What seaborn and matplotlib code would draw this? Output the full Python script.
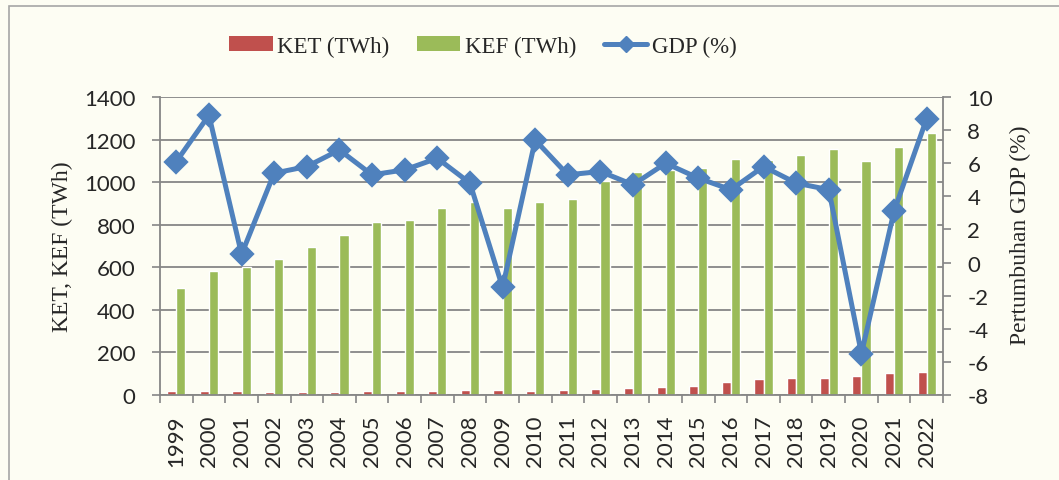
import numpy as np
import pandas as pd
import matplotlib
matplotlib.use("Agg")
import matplotlib.pyplot as plt
import seaborn as sns
from matplotlib.patches import Patch, Rectangle
from matplotlib.lines import Line2D

years = [str(y) for y in range(1999, 2023)]
ket = [20, 20, 17, 14, 14, 16, 17, 17, 17, 22, 22, 17, 25, 30, 34, 39, 42, 60, 77, 78, 81, 89, 102, 106]
kef = [501, 584, 600, 638, 694, 750, 812, 821, 877, 906, 877, 907, 920, 1007, 1046, 1059, 1068, 1109, 1106, 1127, 1155, 1101, 1167, 1233]
gdp = [6.1, 8.9, 0.5, 5.4, 5.8, 6.8, 5.3, 5.6, 6.3, 4.8, -1.5, 7.4, 5.3, 5.5, 4.7, 6.0, 5.1, 4.4, 5.8, 4.8, 4.4, -5.5, 3.1, 8.7]
series_names = ["KET (TWh)", "KEF (TWh)", "GDP (%)"]
left_ticks = [0, 200, 400, 600, 800, 1000, 1200, 1400]
right_ticks = [-8, -6, -4, -2, 0, 2, 4, 6, 8, 10]

RED = "#C0504D"
GREEN = "#9BBB59"
BLUE = "#4F81BD"
GRID = "#868686"

sns.set_theme(style="white")
plt.rcParams["font.family"] = ["Lato", "DejaVu Sans"]
plt.rcParams["axes.unicode_minus"] = False

df = pd.DataFrame({
    "Tahun": years * 2,
    "value": ket + kef,
    "series": [series_names[0]] * len(years) + [series_names[1]] * len(years),
})

fig = plt.figure(figsize=(10.59, 4.81), dpi=100, facecolor="#fdfdf3")
ax = fig.add_axes([160 / 1059, 1 - 396 / 481, (943 - 160) / 1059, (396 - 98) / 481])
ax.set_facecolor("none")

sns.barplot(data=df, x="Tahun", y="value", hue="series", hue_order=series_names[:2],
            palette=[RED, GREEN], width=0.56, gap=0, saturation=1, legend=False,
            ax=ax, zorder=2)

ax2 = ax.twinx()
sns.pointplot(x=years, y=gdp, ax=ax2, color=BLUE, markers="D", errorbar=None,
              markersize=10, linewidth=3.6, zorder=5)

ax.set_xlim(-0.5, len(years) - 0.5)
ax.set_ylim(0, 1400)
ax.set_yticks(left_ticks)
ax2.set_ylim(-8, 10)
ax2.set_yticks(right_ticks)

ax.set_axisbelow(True)
ax.yaxis.grid(True, color=GRID, lw=1.3)
ax.xaxis.grid(False)
ax2.grid(False)

ax.set_xticks(range(len(years)))
ax.set_xticklabels(years, rotation=90, fontsize=16)
ax.set_xticks(np.arange(-0.5, len(years), 1), minor=True)
ax.tick_params(axis="x", which="major", length=0, pad=14)
ax.tick_params(axis="x", which="minor", length=5.5, width=1.2, color=GRID, direction="out", bottom=True)
ax.tick_params(axis="y", length=5.5, width=1.2, color=GRID, direction="out", left=True, pad=12, labelsize=16)
ax2.tick_params(axis="y", length=5.5, width=1.2, color=GRID, direction="out", right=True, pad=12, labelsize=16)

for a in (ax, ax2):
    for s in a.spines.values():
        s.set_visible(False)
ax.spines["left"].set_visible(True)
ax.spines["bottom"].set_visible(True)
ax2.spines["right"].set_visible(True)
for s in (ax.spines["left"], ax.spines["bottom"], ax2.spines["right"]):
    s.set_color(GRID)
    s.set_linewidth(1.3)

serif = {"family": "Liberation Serif", "size": 17}
ax.set_xlabel("")
ax.set_ylabel("KET, KEF (TWh)", fontdict=serif)
ax.yaxis.set_label_coords(-0.111, 0.5)
ax2.set_ylabel("Pertumbuhan GDP (%)", fontdict=serif)
ax2.yaxis.set_label_coords(1.086, 0.54)

handles = [
    Patch(facecolor=RED, edgecolor="none"),
    Patch(facecolor=GREEN, edgecolor="none"),
    Line2D([], [], color=BLUE, lw=3.6, marker="D", markersize=8),
]
fig.legend(handles, series_names, loc="center", bbox_to_anchor=(0.456, 0.902), ncol=3,
           frameon=False, prop={"family": "Liberation Serif", "size": 16.5},
           handlelength=1.9, handleheight=0.63, handletextpad=0.2, columnspacing=1.2)

fig.patches.append(Rectangle((9 / 1059, -0.1), 1.2, 1 - 7 / 481 + 0.1, transform=fig.transFigure,
                             fill=False, edgecolor="#a6a6a6", lw=1.2))

fig.savefig("out.png", dpi=100, facecolor=fig.get_facecolor())
